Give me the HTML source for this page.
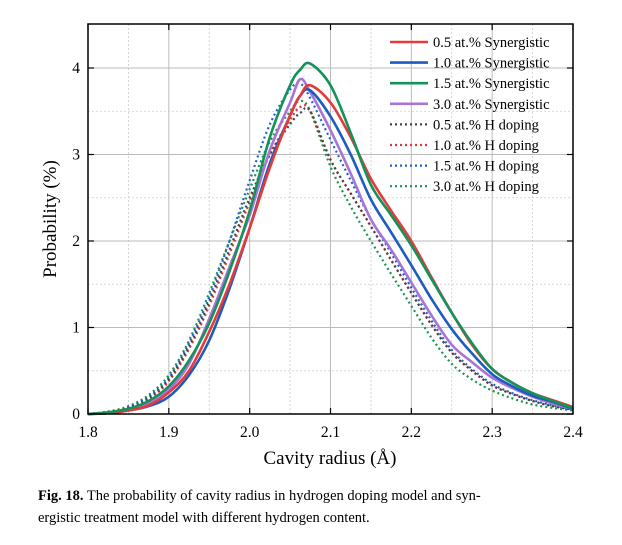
<!DOCTYPE html>
<html><head><meta charset="utf-8"><style>
body{margin:0;background:#fff;width:622px;height:540px;overflow:hidden;font-family:"Liberation Serif",serif}
</style></head><body>
<svg id="chart" width="622" height="540" xmlns="http://www.w3.org/2000/svg" font-family="Liberation Serif, serif">
<g id="grid"></g>
<g id="series"></g>
<rect x="88" y="24" width="485" height="390" fill="none" stroke="#000" stroke-width="1.5"/>
<g id="ticks"></g>
<text x="330" y="464" font-size="19" text-anchor="middle">Cavity radius (Å)</text>
<text transform="translate(56,219) rotate(-90)" font-size="19" text-anchor="middle">Probability (%)</text>
<g id="legend"></g>
<text x="38" y="500" font-size="14.5"><tspan font-weight="bold">Fig. 18.</tspan> The probability of cavity radius in hydrogen doping model and syn-</text>
<text x="38" y="522" font-size="14.5">ergistic treatment model with different hydrogen content.</text>
</svg>
<script>
const xs=[1.8,1.825,1.85,1.875,1.9,1.925,1.95,1.975,2.0,2.025,2.05,2.0625,2.075,2.1,2.125,2.15,2.175,2.2,2.225,2.25,2.275,2.3,2.325,2.35,2.375,2.4];
const synR=[0,.01,.04,.1,.25,.5,.95,1.5,2.15,2.85,3.45,3.68,3.8,3.6,3.2,2.72,2.35,2.0,1.58,1.17,.8,.52,.36,.24,.16,.08];
const synB=[0,.01,.04,.09,.2,.45,.85,1.45,2.15,2.9,3.45,3.68,3.74,3.44,3.0,2.48,2.1,1.72,1.33,.98,.7,.46,.32,.21,.14,.06];
const synG=[0,.02,.06,.15,.32,.62,1.05,1.65,2.35,3.2,3.8,3.98,4.05,3.8,3.25,2.65,2.3,1.95,1.56,1.17,.82,.52,.36,.24,.15,.07];
const synP=[0,.01,.05,.12,.28,.58,1.1,1.7,2.3,3.05,3.6,3.87,3.72,3.28,2.78,2.25,1.9,1.52,1.14,.8,.6,.42,.3,.2,.12,.06];
const hK=[0,.02,.07,.18,.4,.78,1.3,1.9,2.5,3.0,3.35,3.48,3.5,2.94,2.55,2.17,1.78,1.4,1.03,.71,.5,.33,.23,.15,.09,.05];
const hR=[0,.02,.07,.17,.38,.75,1.25,1.85,2.45,3.0,3.4,3.55,3.5,2.94,2.55,2.17,1.78,1.4,1.03,.71,.5,.33,.23,.15,.09,.05];
const hB=[0,.02,.08,.2,.42,.82,1.35,2.0,2.7,3.35,3.75,3.82,3.65,3.17,2.7,2.25,1.86,1.46,1.08,.74,.52,.35,.24,.16,.1,.05];
const hG=[0,.03,.09,.22,.45,.85,1.4,2.0,2.6,3.15,3.5,3.62,3.5,2.86,2.4,2.0,1.62,1.25,.88,.58,.4,.27,.18,.11,.07,.04];
const xTicks=["1.8","1.9","2.0","2.1","2.2","2.3","2.4"];
const yTicks=["0","1","2","3","4"];
const labels=["0.5 at.% Synergistic","1.0 at.% Synergistic","1.5 at.% Synergistic","3.0 at.% Synergistic","0.5 at.% H doping","1.0 at.% H doping","1.5 at.% H doping","3.0 at.% H doping"];
const NS="http://www.w3.org/2000/svg";
const X=v=>88+(v-1.8)/0.6*485, Y=v=>414-v*86.5;
function mk(tag,parent,attrs){const e=document.createElementNS(NS,tag);for(const k in attrs)e.setAttribute(k,attrs[k]);parent.appendChild(e);return e;}
function smooth(pts){let d='M'+pts[0][0].toFixed(1)+','+pts[0][1].toFixed(1);
 for(let i=0;i<pts.length-1;i++){const p0=pts[Math.max(i-1,0)],p1=pts[i],p2=pts[i+1],p3=pts[Math.min(i+2,pts.length-1)];
  const c1=[p1[0]+(p2[0]-p0[0])/6,p1[1]+(p2[1]-p0[1])/6],c2=[p2[0]-(p3[0]-p1[0])/6,p2[1]-(p3[1]-p1[1])/6];
  d+=' C'+c1.map(v=>v.toFixed(1)).join(',')+' '+c2.map(v=>v.toFixed(1)).join(',')+' '+p2.map(v=>v.toFixed(1)).join(',');}
 return d;}
const grid=document.getElementById('grid'),ticks=document.getElementById('ticks');
for(let i=1;i<12;i++){const v=1.8+i*0.05;const major=i%2==0;
 const l=mk('line',grid,{x1:X(v),x2:X(v),y1:24,y2:414,stroke:major?'#bbb':'#ccc','stroke-width':major?1:0.8,'stroke-dasharray':major?'none':'2,2'});
 
 }
for(let i=1;i<9;i++){const v=i*0.5;const major=i%2==0;
 const l=mk('line',grid,{x1:88,x2:573,y1:Y(v),y2:Y(v),stroke:major?'#bbb':'#ccc','stroke-width':major?1:0.8,'stroke-dasharray':major?'none':'2,2'});
 
 }
xTicks.forEach(t=>{const v=parseFloat(t);
 mk('line',ticks,{x1:X(v),x2:X(v),y1:414,y2:408,stroke:'#000','stroke-width':1.2});
 mk('line',ticks,{x1:X(v),x2:X(v),y1:24,y2:30,stroke:'#000','stroke-width':1.2});
 const tx=mk('text',ticks,{x:X(v),y:437,'font-size':15.5,'text-anchor':'middle'});tx.textContent=t;
 
 });
yTicks.forEach(t=>{const v=parseFloat(t);
 mk('line',ticks,{x1:88,x2:94,y1:Y(v),y2:Y(v),stroke:'#000','stroke-width':1.2});
 mk('line',ticks,{x1:573,x2:567,y1:Y(v),y2:Y(v),stroke:'#000','stroke-width':1.2});
 const tx=mk('text',ticks,{x:80,y:Y(v)+5,'font-size':15.5,'text-anchor':'end'});tx.textContent=t;
 
 });
const sets=[[hG,'#1a9450',1],[hB,'#2262d0',1],[hR,'#e03535',1],[hK,'#444',1],[synP,'#a874d6',0],[synB,'#1d5cbf',0],[synR,'#e53a3a',0],[synG,'#15915a',0]];
const names=['h-doping-3.0','h-doping-1.5','h-doping-1.0','h-doping-0.5','synergistic-3.0','synergistic-1.0','synergistic-0.5','synergistic-1.5'];
const ser=document.getElementById('series');
sets.forEach((s,i)=>{const pts=s[0].map((v,j)=>[X(xs[j]),Y(v)]);
 const p=mk('path',ser,{d:smooth(pts),fill:'none',stroke:s[1],'stroke-width':s[2]?2.2:2.6,'stroke-dasharray':s[2]?'2,3':'none','stroke-linejoin':'round'});
 
 });
const legCols=['#e53a3a','#1d5cbf','#15915a','#a874d6','#444','#e03535','#2262d0','#1a9450'];
const leg=document.getElementById('legend');
labels.forEach((t,i)=>{const y=42+i*20.6;
 const l=mk('line',leg,{x1:390,x2:428,y1:y,y2:y,stroke:legCols[i],'stroke-width':i<4?2.6:2.2,'stroke-dasharray':i<4?'none':'2,3'});
 
 
 const tx=mk('text',leg,{x:433,y:y+5,'font-size':14.5});tx.textContent=t;
 
 });
</script>
</body></html>
